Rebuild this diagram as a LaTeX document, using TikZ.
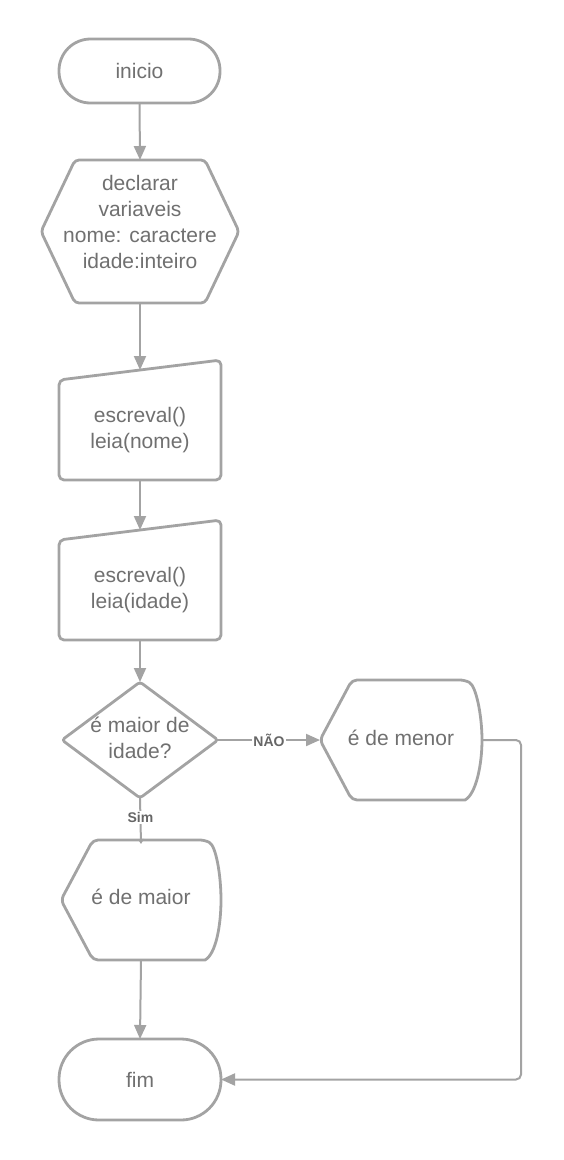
\documentclass[tikz,border=0pt]{standalone}
\usepackage{fontspec}
\setmainfont{Liberation Sans}
\usetikzlibrary{arrows.meta,calc}
\definecolor{edge}{HTML}{A3A3A3}
\definecolor{txt}{HTML}{707070}
\definecolor{lbl}{HTML}{666666}
\tikzset{
  box/.style={draw=none,inner sep=0pt,outer sep=0pt},
  outline/.style={draw=edge,line width=2.8pt,fill=white,line join=round},
  words/.style={text=txt,align=center,font=\fontsize{21}{26}\selectfont,inner sep=0pt},
  conn/.style={draw=edge,line width=2pt,-{Triangle[length=14pt,width=12pt]}},
  tag/.style={text=lbl,font=\bfseries\fontsize{14}{16}\selectfont,fill=white,inner sep=1.5pt}
}
\begin{document}
\begin{tikzpicture}[x=1pt,y=-1pt]
\useasboundingbox (0,0) rectangle (563,1160);
% nodes (boxes)
\node[box,minimum width=161pt,minimum height=64pt] (inicio) at (139.5,71) {};
\node[box,minimum width=198pt,minimum height=143pt] (decl) at (140,231.5) {};
\node[box,minimum width=162pt,minimum height=120pt] (in1) at (140,420) {};
\node[box,minimum width=162pt,minimum height=120pt] (in2) at (140,580) {};
\node[box,minimum width=156pt,minimum height=116pt] (dec) at (140,740) {};
\node[box,minimum width=162pt,minimum height=120pt] (menor) at (401,740) {};
\node[box,minimum width=160pt,minimum height=120pt] (maior) at (141,900) {};
\node[box,minimum width=162pt,minimum height=81pt] (fim) at (140,1079.5) {};
% outlines
\draw[outline,rounded corners=31.5pt] (inicio.south west) rectangle (inicio.north east);
\draw[outline,rounded corners=4pt] (decl.west) -- ($(decl.north west)+(34,0)$) -- ($(decl.north east)+(-34,0)$) -- (decl.east) -- ($(decl.south east)+(-34,0)$) -- ($(decl.south west)+(34,0)$) -- cycle;
\draw[outline,rounded corners=5pt] ($(in1.north west)+(0,20)$) -- (in1.north east) -- (in1.south east) -- (in1.south west) -- cycle;
\draw[outline,rounded corners=5pt] ($(in2.north west)+(0,20)$) -- (in2.north east) -- (in2.south east) -- (in2.south west) -- cycle;
\draw[outline,rounded corners=3pt] (dec.north) -- (dec.east) -- (dec.south) -- (dec.west) -- cycle;
\draw[outline] ($(menor.north east)+(-17,0)$)
   .. controls ($(menor.north east)+(-6,6)$) and ($(menor.east)+(0,-25)$) .. (menor.east)
   .. controls ($(menor.east)+(0,25)$) and ($(menor.south east)+(-6,-6)$) .. ($(menor.south east)+(-17,0)$)
   [rounded corners=5pt] -- ($(menor.south west)+(32,0)$) -- (menor.west) -- ($(menor.north west)+(32,0)$) -- cycle;
\draw[outline] ($(maior.north east)+(-16,0)$)
   .. controls ($(maior.north east)+(-5,6)$) and ($(maior.east)+(0,-25)$) .. (maior.east)
   .. controls ($(maior.east)+(0,25)$) and ($(maior.south east)+(-5,-6)$) .. ($(maior.south east)+(-16,0)$)
   [rounded corners=5pt] -- ($(maior.south west)+(32,0)$) -- (maior.west) -- ($(maior.north west)+(32,0)$) -- cycle;
\draw[outline,rounded corners=40pt] (fim.south west) rectangle (fim.north east);
% texts
\node[words] (t-inicio) at (inicio.center) {inicio};
\node[words] (t-decl) at ($(decl.center)+(0,-10)$) {declarar\\variaveis\\nome: caractere\\idade:inteiro};
\node[words] (t-in1) at ($(in1.center)+(0,10)$) {escreval()\\leia(nome)};
\node[words] (t-in2) at ($(in2.center)+(0,10)$) {escreval()\\leia(idade)};
\node[words] (t-dec) at ($(dec.center)+(0,-2)$) {é maior de\\idade?};
\node[words] (t-menor) at ($(menor.center)+(0,-2)$) {é de menor};
\node[words] (t-maior) at ($(maior.center)+(0,-3)$) {é de maior};
\node[words] (t-fim) at (fim.center) {fim};
% connectors
\draw[conn] (inicio.south) -- (decl.north);
\draw[conn] (decl.south) -- ([yshift=-10pt]in1.north);
\draw[conn] (in1.south) -- ([yshift=-10pt]in2.north);
\draw[conn] (in2.south) -- (dec.north);
\draw[conn,-{Triangle[length=5pt,width=6pt]}] (dec.south) -- node[tag,pos=0.42] {Sim} ([yshift=-4pt]maior.north);
\draw[conn] (dec.east) -- node[tag,pos=0.5] {NÃO} (menor.west);
\draw[conn,rounded corners=5pt] (menor.east) -- ++(39,0) |- (fim.east);
\draw[conn] (maior.south) -- (fim.north);
\end{tikzpicture}
\end{document}
